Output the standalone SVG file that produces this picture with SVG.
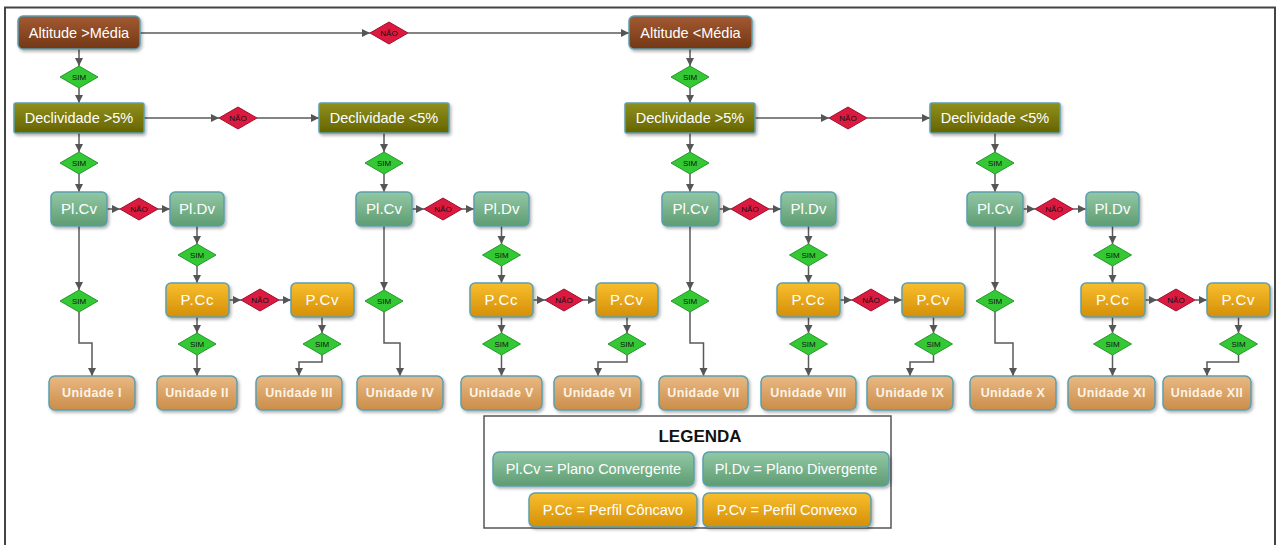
<svg xmlns="http://www.w3.org/2000/svg" width="1277" height="545" viewBox="0 0 1277 545">
<style>
.n{stroke:#5b9fae;stroke-width:1.5;filter:url(#sh)}
.t{font-family:"Liberation Sans",Arial,sans-serif;font-size:14.5px;fill:#ffffff;text-anchor:middle}
.tb{font-size:15px}
.u{font-family:"Liberation Sans",Arial,sans-serif;font-size:12.5px;font-weight:bold;fill:#fdf3e6;text-anchor:middle;letter-spacing:0.4px}
.d{font-family:"Liberation Sans",Arial,sans-serif;font-size:8px;fill:#111;text-anchor:middle}
.sim{fill:#35c835;stroke:#23982a;stroke-width:1}
.nao{fill:#dc1a40;stroke:#9e1030;stroke-width:1}
.c{fill:none;stroke:#5a5a5a;stroke-width:1.5;marker-end:url(#ar)}
</style>
<defs>
<linearGradient id="gBr" x1="0" y1="0" x2="0" y2="1"><stop offset="0" stop-color="#a35a32"/><stop offset="1" stop-color="#733716"/></linearGradient>
<linearGradient id="gOl" x1="0" y1="0" x2="0" y2="1"><stop offset="0" stop-color="#8f8f1e"/><stop offset="1" stop-color="#656400"/></linearGradient>
<linearGradient id="gGr" x1="0" y1="0" x2="0" y2="1"><stop offset="0" stop-color="#92c8a4"/><stop offset="1" stop-color="#5e9c73"/></linearGradient>
<linearGradient id="gOr" x1="0" y1="0" x2="0" y2="1"><stop offset="0" stop-color="#f8be2e"/><stop offset="1" stop-color="#d48f06"/></linearGradient>
<linearGradient id="gTn" x1="0" y1="0" x2="0" y2="1"><stop offset="0" stop-color="#e9b983"/><stop offset="1" stop-color="#cb8d4a"/></linearGradient>
<filter id="sh" x="-20%" y="-20%" width="140%" height="150%"><feDropShadow dx="1.5" dy="2" stdDeviation="1.5" flood-color="#000" flood-opacity="0.3"/></filter>
<marker id="ar" markerWidth="9" markerHeight="9" refX="8" refY="4" orient="auto" markerUnits="userSpaceOnUse"><path d="M0,0 L8,4 L0,8 z" fill="#555"/></marker>
</defs>
<rect width="1277" height="545" fill="#ffffff"/>
<path d="M5,550 V7.5 H1275 V550" fill="none" stroke="#444" stroke-width="2"/>

<g id="connectors">
<path class="c" d="M140,33 H370"/><path class="c" d="M408,33 H629"/>
<path class="c" d="M79,49 V66"/><path class="c" d="M79,88 V103"/>
<path class="c" d="M690,49 V66"/><path class="c" d="M690,88 V103"/>
<path class="c" d="M144,118 H219"/><path class="c" d="M257,118 H319"/>
<path class="c" d="M755,118 H829"/><path class="c" d="M867,118 H930"/>
<path class="c" d="M79,133 V152"/><path class="c" d="M79,174 V192"/>
<path class="c" d="M107,209 H120"/><path class="c" d="M158,209 H170"/>
<path class="c" d="M79,226 V290"/><path class="c" d="M79,312 V343 H92 V376"/>
<path class="c" d="M197,226 V244"/><path class="c" d="M197,266 V283"/>
<path class="c" d="M229,300 H241"/><path class="c" d="M279,300 H291"/>
<path class="c" d="M197,317 V333"/><path class="c" d="M197,355 V376"/>
<path class="c" d="M322,317 V333"/><path class="c" d="M322,355 V362 H299 V376"/>
<path class="c" d="M384,133 V152"/><path class="c" d="M384,174 V192"/>
<path class="c" d="M412,209 H424"/><path class="c" d="M462,209 H474"/>
<path class="c" d="M384,226 V290"/><path class="c" d="M384,312 V343 H400 V376"/>
<path class="c" d="M501.5,226 V244"/><path class="c" d="M501.5,266 V283"/>
<path class="c" d="M533,300 H545"/><path class="c" d="M583,300 H596"/>
<path class="c" d="M501.5,317 V333"/><path class="c" d="M501.5,355 V376"/>
<path class="c" d="M627,317 V333"/><path class="c" d="M627,355 V362 H598 V376"/>
<path class="c" d="M690,133 V152"/><path class="c" d="M690,174 V192"/>
<path class="c" d="M719,209 H731"/><path class="c" d="M769,209 H781"/>
<path class="c" d="M690,226 V290"/><path class="c" d="M690,312 V343 H703.5 V376"/>
<path class="c" d="M808.5,226 V244"/><path class="c" d="M808.5,266 V283"/>
<path class="c" d="M840,300 H852"/><path class="c" d="M890,300 H902"/>
<path class="c" d="M808.5,317 V333"/><path class="c" d="M808.5,355 V376"/>
<path class="c" d="M933.5,317 V333"/><path class="c" d="M933.5,355 V362 H910 V376"/>
<path class="c" d="M995,133 V152"/><path class="c" d="M995,174 V192"/>
<path class="c" d="M1023,209 H1035"/><path class="c" d="M1073,209 H1086"/>
<path class="c" d="M995,226 V290"/><path class="c" d="M995,312 V343 H1013 V376"/>
<path class="c" d="M1112.5,226 V244"/><path class="c" d="M1112.5,266 V283"/>
<path class="c" d="M1145,300 H1157"/><path class="c" d="M1195,300 H1207"/>
<path class="c" d="M1112.5,317 V333"/><path class="c" d="M1112.5,355 V376"/>
<path class="c" d="M1238.5,317 V333"/><path class="c" d="M1238.5,355 V362 H1207 V376"/>
</g>

<g id="alt-maior"><rect class="n" x="18" y="16" width="122" height="33" rx="5" fill="url(#gBr)"/><text class="t" x="79" y="38">Altitude &gt;Média</text></g>
<g id="nao-top"><polygon class="nao" points="370,33 389,22 408,33 389,44"/><text class="d" x="389" y="36">NÃO</text></g>
<g id="alt-menor"><rect class="n" x="629" y="16" width="123" height="33" rx="5" fill="url(#gBr)"/><text class="t" x="690.5" y="38">Altitude &lt;Média</text></g>
<g id="sim-a1"><polygon class="sim" points="60,77 79,66 98,77 79,88"/><text class="d" x="79" y="80">SIM</text></g>
<g id="sim-a2"><polygon class="sim" points="671,77 690,66 709,77 690,88"/><text class="d" x="690" y="80">SIM</text></g>

<g id="decl-1"><rect class="n" x="14" y="103" width="130" height="30" rx="2" fill="url(#gOl)"/><text class="t" x="79" y="123">Declividade &gt;5%</text></g>
<g id="nao-d1"><polygon class="nao" points="219,118 238,107 257,118 238,129"/><text class="d" x="238" y="121">NÃO</text></g>
<g id="decl-2"><rect class="n" x="319" y="103" width="130" height="30" rx="2" fill="url(#gOl)"/><text class="t" x="384" y="123">Declividade &lt;5%</text></g>
<g id="decl-3"><rect class="n" x="625" y="103" width="130" height="30" rx="2" fill="url(#gOl)"/><text class="t" x="690" y="123">Declividade &gt;5%</text></g>
<g id="nao-d2"><polygon class="nao" points="829,118 848,107 867,118 848,129"/><text class="d" x="848" y="121">NÃO</text></g>
<g id="decl-4"><rect class="n" x="930" y="103" width="130" height="30" rx="2" fill="url(#gOl)"/><text class="t" x="995" y="123">Declividade &lt;5%</text></g>

<g id="g1-sim0"><polygon class="sim" points="60,163 79,152 98,163 79,174"/><text class="d" x="79" y="166">SIM</text></g>
<g id="g1-plcv"><rect class="n" x="51" y="192" width="56" height="34" rx="5" fill="url(#gGr)"/><text class="t tb" x="79" y="214">Pl.Cv</text></g>
<g id="g1-nao1"><polygon class="nao" points="120,209 139,198 158,209 139,220"/><text class="d" x="139" y="212">NÃO</text></g>
<g id="g1-pldv"><rect class="n" x="170" y="192" width="54" height="34" rx="5" fill="url(#gGr)"/><text class="t tb" x="197" y="214">Pl.Dv</text></g>
<g id="g1-sim1"><polygon class="sim" points="178,255 197,244 216,255 197,266"/><text class="d" x="197" y="258">SIM</text></g>
<g id="g1-pcc"><rect class="n" x="166" y="283" width="63" height="34" rx="5" fill="url(#gOr)"/><text class="t tb" x="197.5" y="305" letter-spacing="0.8">P.Cc</text></g>
<g id="g1-nao2"><polygon class="nao" points="241,300 260,289 279,300 260,311"/><text class="d" x="260" y="303">NÃO</text></g>
<g id="g1-pcv"><rect class="n" x="291" y="283" width="63" height="34" rx="5" fill="url(#gOr)"/><text class="t tb" x="322.5" y="305" letter-spacing="0.8">P.Cv</text></g>
<g id="g1-sim2"><polygon class="sim" points="60,301 79,290 98,301 79,312"/><text class="d" x="79" y="304">SIM</text></g>
<g id="g1-sim3"><polygon class="sim" points="178,344 197,333 216,344 197,355"/><text class="d" x="197" y="347">SIM</text></g>
<g id="g1-sim4"><polygon class="sim" points="303,344 322,333 341,344 322,355"/><text class="d" x="322" y="347">SIM</text></g>
<g id="unid-1"><rect class="n" x="49" y="376" width="86" height="34" rx="6" fill="url(#gTn)"/><text class="u" x="92" y="397">Unidade I</text></g>
<g id="unid-2"><rect class="n" x="157" y="376" width="80" height="34" rx="6" fill="url(#gTn)"/><text class="u" x="197" y="397">Unidade II</text></g>
<g id="unid-3"><rect class="n" x="256" y="376" width="86" height="34" rx="6" fill="url(#gTn)"/><text class="u" x="299" y="397">Unidade III</text></g>

<g id="g2-sim0"><polygon class="sim" points="365,163 384,152 403,163 384,174"/><text class="d" x="384" y="166">SIM</text></g>
<g id="g2-plcv"><rect class="n" x="356" y="192" width="56" height="34" rx="5" fill="url(#gGr)"/><text class="t tb" x="384" y="214">Pl.Cv</text></g>
<g id="g2-nao1"><polygon class="nao" points="424,209 443,198 462,209 443,220"/><text class="d" x="443" y="212">NÃO</text></g>
<g id="g2-pldv"><rect class="n" x="474" y="192" width="55" height="34" rx="5" fill="url(#gGr)"/><text class="t tb" x="501.5" y="214">Pl.Dv</text></g>
<g id="g2-sim1"><polygon class="sim" points="482.5,255 501.5,244 520.5,255 501.5,266"/><text class="d" x="501.5" y="258">SIM</text></g>
<g id="g2-pcc"><rect class="n" x="470" y="283" width="63" height="34" rx="5" fill="url(#gOr)"/><text class="t tb" x="501.5" y="305" letter-spacing="0.8">P.Cc</text></g>
<g id="g2-nao2"><polygon class="nao" points="545,300 564,289 583,300 564,311"/><text class="d" x="564" y="303">NÃO</text></g>
<g id="g2-pcv"><rect class="n" x="596" y="283" width="62" height="34" rx="5" fill="url(#gOr)"/><text class="t tb" x="627" y="305" letter-spacing="0.8">P.Cv</text></g>
<g id="g2-sim2"><polygon class="sim" points="365,301 384,290 403,301 384,312"/><text class="d" x="384" y="304">SIM</text></g>
<g id="g2-sim3"><polygon class="sim" points="482.5,344 501.5,333 520.5,344 501.5,355"/><text class="d" x="501.5" y="347">SIM</text></g>
<g id="g2-sim4"><polygon class="sim" points="608,344 627,333 646,344 627,355"/><text class="d" x="627" y="347">SIM</text></g>
<g id="unid-4"><rect class="n" x="357" y="376" width="86" height="34" rx="6" fill="url(#gTn)"/><text class="u" x="400" y="397">Unidade IV</text></g>
<g id="unid-5"><rect class="n" x="461" y="376" width="81" height="34" rx="6" fill="url(#gTn)"/><text class="u" x="501.5" y="397">Unidade V</text></g>
<g id="unid-6"><rect class="n" x="554" y="376" width="87" height="34" rx="6" fill="url(#gTn)"/><text class="u" x="597.5" y="397">Unidade VI</text></g>

<g id="g3-sim0"><polygon class="sim" points="671,163 690,152 709,163 690,174"/><text class="d" x="690" y="166">SIM</text></g>
<g id="g3-plcv"><rect class="n" x="662" y="192" width="57" height="34" rx="5" fill="url(#gGr)"/><text class="t tb" x="690.5" y="214">Pl.Cv</text></g>
<g id="g3-nao1"><polygon class="nao" points="731,209 750,198 769,209 750,220"/><text class="d" x="750" y="212">NÃO</text></g>
<g id="g3-pldv"><rect class="n" x="781" y="192" width="55" height="34" rx="5" fill="url(#gGr)"/><text class="t tb" x="808.5" y="214">Pl.Dv</text></g>
<g id="g3-sim1"><polygon class="sim" points="789.5,255 808.5,244 827.5,255 808.5,266"/><text class="d" x="808.5" y="258">SIM</text></g>
<g id="g3-pcc"><rect class="n" x="777" y="283" width="63" height="34" rx="5" fill="url(#gOr)"/><text class="t tb" x="808.5" y="305" letter-spacing="0.8">P.Cc</text></g>
<g id="g3-nao2"><polygon class="nao" points="852,300 871,289 890,300 871,311"/><text class="d" x="871" y="303">NÃO</text></g>
<g id="g3-pcv"><rect class="n" x="902" y="283" width="63" height="34" rx="5" fill="url(#gOr)"/><text class="t tb" x="933.5" y="305" letter-spacing="0.8">P.Cv</text></g>
<g id="g3-sim2"><polygon class="sim" points="671,301 690,290 709,301 690,312"/><text class="d" x="690" y="304">SIM</text></g>
<g id="g3-sim3"><polygon class="sim" points="789.5,344 808.5,333 827.5,344 808.5,355"/><text class="d" x="808.5" y="347">SIM</text></g>
<g id="g3-sim4"><polygon class="sim" points="914.5,344 933.5,333 952.5,344 933.5,355"/><text class="d" x="933.5" y="347">SIM</text></g>
<g id="unid-7"><rect class="n" x="659" y="376" width="89" height="34" rx="6" fill="url(#gTn)"/><text class="u" x="703.5" y="397">Unidade VII</text></g>
<g id="unid-8"><rect class="n" x="761" y="376" width="95" height="34" rx="6" fill="url(#gTn)"/><text class="u" x="808.5" y="397">Unidade VIII</text></g>
<g id="unid-9"><rect class="n" x="867" y="376" width="86" height="34" rx="6" fill="url(#gTn)"/><text class="u" x="910" y="397">Unidade IX</text></g>

<g id="g4-sim0"><polygon class="sim" points="976,163 995,152 1014,163 995,174"/><text class="d" x="995" y="166">SIM</text></g>
<g id="g4-plcv"><rect class="n" x="967" y="192" width="56" height="34" rx="5" fill="url(#gGr)"/><text class="t tb" x="995" y="214">Pl.Cv</text></g>
<g id="g4-nao1"><polygon class="nao" points="1035,209 1054,198 1073,209 1054,220"/><text class="d" x="1054" y="212">NÃO</text></g>
<g id="g4-pldv"><rect class="n" x="1086" y="192" width="53" height="34" rx="5" fill="url(#gGr)"/><text class="t tb" x="1112.5" y="214">Pl.Dv</text></g>
<g id="g4-sim1"><polygon class="sim" points="1093.5,255 1112.5,244 1131.5,255 1112.5,266"/><text class="d" x="1112.5" y="258">SIM</text></g>
<g id="g4-pcc"><rect class="n" x="1081" y="283" width="64" height="34" rx="5" fill="url(#gOr)"/><text class="t tb" x="1113" y="305" letter-spacing="0.8">P.Cc</text></g>
<g id="g4-nao2"><polygon class="nao" points="1157,300 1176,289 1195,300 1176,311"/><text class="d" x="1176" y="303">NÃO</text></g>
<g id="g4-pcv"><rect class="n" x="1207" y="283" width="63" height="34" rx="5" fill="url(#gOr)"/><text class="t tb" x="1238.5" y="305" letter-spacing="0.8">P.Cv</text></g>
<g id="g4-sim2"><polygon class="sim" points="976,301 995,290 1014,301 995,312"/><text class="d" x="995" y="304">SIM</text></g>
<g id="g4-sim3"><polygon class="sim" points="1093.5,344 1112.5,333 1131.5,344 1112.5,355"/><text class="d" x="1112.5" y="347">SIM</text></g>
<g id="g4-sim4"><polygon class="sim" points="1219.5,344 1238.5,333 1257.5,344 1238.5,355"/><text class="d" x="1238.5" y="347">SIM</text></g>
<g id="unid-10"><rect class="n" x="970" y="376" width="86" height="34" rx="6" fill="url(#gTn)"/><text class="u" x="1013" y="397">Unidade X</text></g>
<g id="unid-11"><rect class="n" x="1068" y="376" width="87" height="34" rx="6" fill="url(#gTn)"/><text class="u" x="1111.5" y="397">Unidade XI</text></g>
<g id="unid-12"><rect class="n" x="1163" y="376" width="88" height="34" rx="6" fill="url(#gTn)"/><text class="u" x="1207" y="397">Unidade XII</text></g>

<g id="legenda">
<rect x="484" y="416" width="407" height="112" fill="#fff" stroke="#555" stroke-width="1.5"/>
<text x="700" y="442" font-family="'Liberation Sans',Arial,sans-serif" font-size="17" font-weight="bold" fill="#111" text-anchor="middle">LEGENDA</text>
<g id="leg-plcv"><rect class="n" x="493" y="452" width="201" height="34" rx="6" fill="url(#gGr)"/><text class="t" x="593.5" y="474">Pl.Cv = Plano Convergente</text></g>
<g id="leg-pldv"><rect class="n" x="703" y="452" width="186" height="34" rx="6" fill="url(#gGr)"/><text class="t" x="796" y="474">Pl.Dv = Plano Divergente</text></g>
<g id="leg-pcc"><rect class="n" x="529" y="493" width="168" height="34" rx="6" fill="url(#gOr)"/><text class="t" x="613" y="515">P.Cc = Perfil Côncavo</text></g>
<g id="leg-pcv"><rect class="n" x="703" y="493" width="168" height="34" rx="6" fill="url(#gOr)"/><text class="t" x="787" y="515">P.Cv = Perfil Convexo</text></g>
</g>
</svg>
